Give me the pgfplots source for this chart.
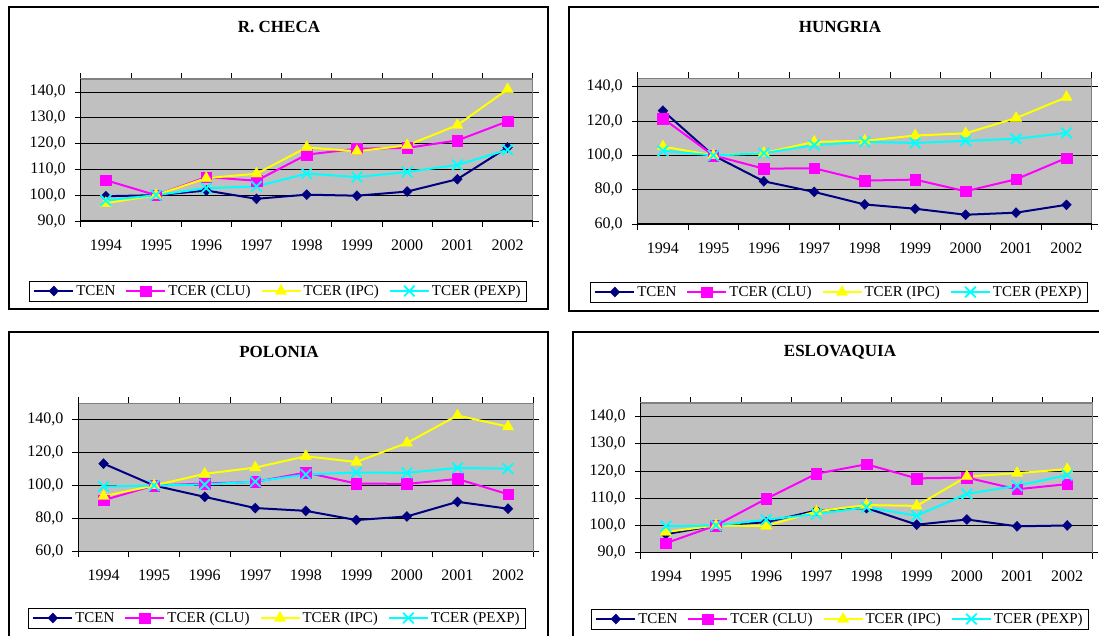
\documentclass[border=0pt]{standalone}
\usepackage{fontspec}
\setmainfont{Liberation Serif}
\usepackage{pgfplots}
\usepackage{pgfplotstable}
\pgfplotsset{compat=1.18}

\definecolor{cTCEN}{RGB}{0,0,128}
\definecolor{cCLU}{RGB}{255,0,255}
\definecolor{cIPC}{RGB}{255,255,0}
\definecolor{cPEXP}{RGB}{0,255,255}
\definecolor{plotbg}{RGB}{192,192,192}
\definecolor{framegray}{RGB}{128,128,128}

% Indices 1995 = 100; x = 0 ... 8 stands for 1994 ... 2002
\pgfplotstableread{
x tcen  clu   ipc   pexp
0 99.6  105.8 96.9  98.0
1 100.0 100.0 100.0 100.0
2 101.8 107.0 106.6 102.7
3 98.6  105.6 108.3 103.4
4 100.2 115.7 118.5 108.4
5 99.8  118.0 117.0 107.0
6 101.4 118.3 119.3 109.0
7 106.2 121.2 127.1 111.7
8 118.5 128.6 141.0 117.6
}\checa

\pgfplotstableread{
x tcen  clu   ipc   pexp
0 126.1 121.6 105.2 102.7
1 100.0 100.0 100.0 100.0
2 84.9  92.3  101.4 101.3
3 78.7  92.5  107.9 106.0
4 71.4  85.3  108.5 107.9
5 68.9  85.9  111.6 107.3
6 65.4  79.1  112.9 108.5
7 66.6  86.1  121.8 109.7
8 71.2  98.5  134.0 113.1
}\hungria

\pgfplotstableread{
x tcen  clu   ipc   pexp
0 113.3 91.1  93.5  99.4
1 100.0 100.0 100.0 100.0
2 93.1  101.2 107.1 100.6
3 86.3  102.2 110.9 102.4
4 84.6  107.9 117.8 106.7
5 79.0  101.2 114.3 107.9
6 81.2  101.0 125.9 107.7
7 90.1  104.0 142.6 110.7
8 85.9  94.7  135.8 110.3
}\polonia

\pgfplotstableread{
x tcen  clu   ipc   pexp
0 96.8  93.5  97.6  99.7
1 100.0 100.0 100.0 100.0
2 101.2 109.8 99.8  102.1
3 105.5 119.0 105.2 104.2
4 106.4 122.5 107.5 106.7
5 100.3 117.3 107.2 103.6
6 102.2 117.6 118.0 111.6
7 99.7  113.3 119.2 114.6
8 100.0 115.2 120.7 118.5
}\eslovaquia

\pgfplotsset{
  legend image code/.code={%
    \draw[mark repeat=2,mark phase=2,#1] plot coordinates {(0pt,0pt) (19.5pt,0pt) (39pt,0pt)};},
  panel/.style={
    scale only axis,
    anchor=south west,
    clip=false,
    xmin=-0.5, xmax=8.5,
    xtick={-0.5,0.5,1.5,2.5,3.5,4.5,5.5,6.5,7.5,8.5},
    xticklabels={1994,1995,1996,1997,1998,1999,2000,2001,2002,{}},
    tick align=outside,
    major tick length=6pt,
    tick style={black, line width=0.8pt},
    ymajorgrids,
    grid style={black, line width=0.8pt},
    axis background/.style={fill=plotbg},
    axis line style={draw=framegray, line width=1.2pt},
    tick label style={font=\fontsize{16}{19}\selectfont},
    /pgf/number format/assume math mode=true,
    /pgf/number format/fixed,
    /pgf/number format/fixed zerofill,
    /pgf/number format/precision=1,
    /pgf/number format/use comma,
    yticklabel style={xshift=-5.5pt},
    xticklabel style={yshift=-9pt},
    legend columns=4,
    legend style={anchor=center, draw=black, line width=0.8pt, fill=white,
      font=\fontsize{15}{18}\selectfont, inner xsep=4pt, inner ysep=2pt,
      /tikz/every even column/.append style={column sep=8pt}},
  },
  tcen/.style={color=cTCEN, line width=2pt, mark=diamond*, mark size=5pt,
    mark options={solid, line width=0.4pt, xscale=1.3}},
  clu/.style={color=cCLU, line width=2pt, mark=square*, mark size=5.3pt,
    mark options={solid, line width=0.4pt}},
  ipc/.style={color=cIPC, line width=2pt, mark=triangle*, mark size=6.5pt,
    mark options={solid, line width=0.4pt}},
  pexp/.style={color=cPEXP, line width=2pt, mark=x, mark size=7.5pt,
    mark options={solid, line width=1.8pt}},
}

% the four series of one country, with the black left and bottom axes
\newcommand{\countryseries}[1]{%
  \addplot[tcen] table[x=x,y=tcen]{#1};
  \addlegendentry{TCEN}
  \addplot[clu] table[x=x,y=clu]{#1};
  \addlegendentry{TCER (CLU)}
  \addplot[ipc] table[x=x,y=ipc]{#1};
  \addlegendentry{TCER (IPC)}
  \addplot[pexp] table[x=x,y=pexp]{#1};
  \addlegendentry{TCER (PEXP)}
  \draw[black, line width=1.2pt] (rel axis cs:0,1) -- (rel axis cs:0,0) -- (rel axis cs:1,0);
}

\begin{document}
\begin{tikzpicture}[x=1pt,y=1pt]
\useasboundingbox (0,0) rectangle (1099,635);
\clip (0,0) rectangle (1099,635);

% panel frames
\draw[line width=1.3pt] (9,326) rectangle (548,628);
\draw[line width=1.3pt] (569,324) rectangle (1112,628);
\draw[line width=1.3pt] (9,-10) rectangle (548,303);
\draw[line width=1.3pt] (573,-10) rectangle (1112,303);

% titles
\node[font=\bfseries\fontsize{17}{20}\selectfont] at (279,608) {R. CHECA};
\node[font=\bfseries\fontsize{17}{20}\selectfont] at (840,608) {HUNGRIA};
\node[font=\bfseries\fontsize{17}{20}\selectfont] at (279,283) {POLONIA};
\node[font=\bfseries\fontsize{17}{20}\selectfont] at (840,283) {ESLOVAQUIA};

\begin{axis}[panel, at={(80.7pt,414pt)}, width=452pt, height=142pt,
  ymin=90, ymax=145, ytick={90,100,...,140},
  xticklabel style={xshift=25.1pt},
  legend style={at={(0.4365,-0.493)}}]
\countryseries{\checa}
\end{axis}

\begin{axis}[panel, at={(637.7pt,411pt)}, width=454pt, height=145.7pt,
  ymin=60, ymax=145, ytick={60,80,...,140},
  xticklabel style={xshift=25.2pt},
  legend style={at={(0.4434,-0.467)}}]
\countryseries{\hungria}
\end{axis}

\begin{axis}[panel, at={(78.3pt,83.7pt)}, width=455pt, height=148pt,
  ymin=60, ymax=150, ytick={60,80,...,140},
  xticklabel style={xshift=25.3pt},
  legend style={at={(0.4367,-0.4507)}}]
\countryseries{\polonia}
\end{axis}

\begin{axis}[panel, at={(640.7pt,82.3pt)}, width=451.6pt, height=149.7pt,
  ymin=90, ymax=145, ytick={90,100,...,140},
  xticklabel style={xshift=25.1pt},
  legend style={at={(0.4413,-0.443)}}]
\countryseries{\eslovaquia}
\end{axis}
\end{tikzpicture}
\end{document}
